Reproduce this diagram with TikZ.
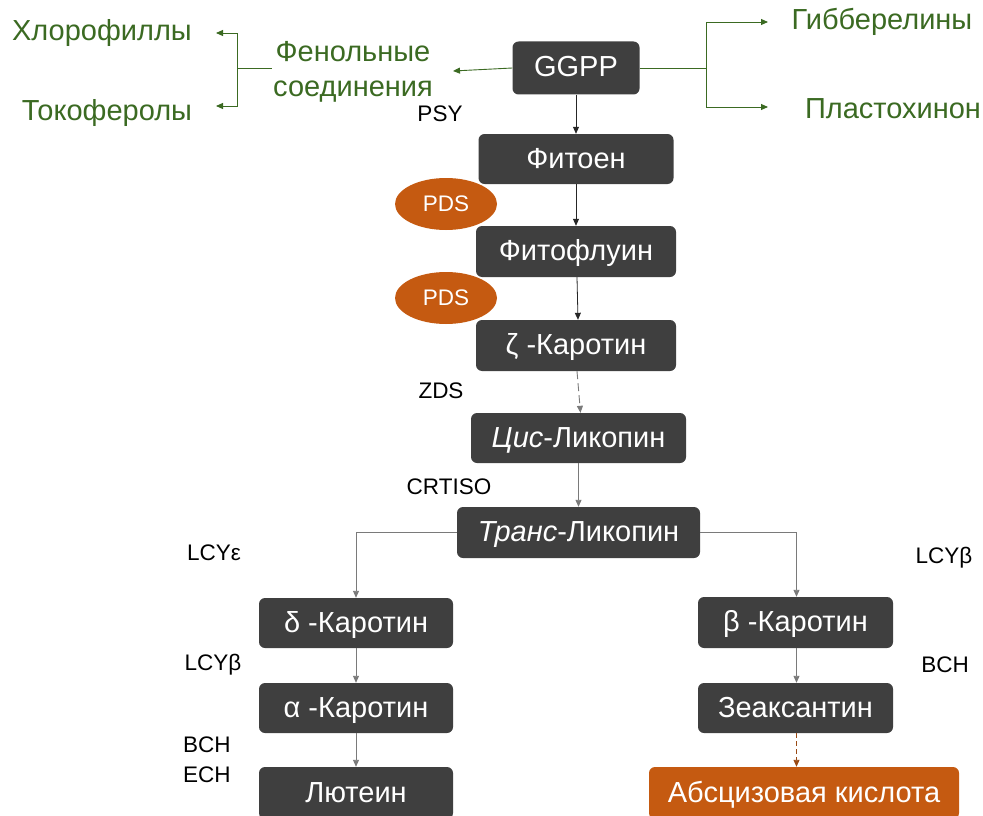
\documentclass[tikz,border=0pt]{standalone}
\usepackage{fontspec}
\setmainfont{Liberation Sans}
\usetikzlibrary{arrows.meta,shapes.geometric}
\definecolor{boxgray}{HTML}{3F3F3F}
\definecolor{orng}{HTML}{C55A11}
\definecolor{grn}{HTML}{3B6A22}
\definecolor{linegray}{HTML}{7A7A7A}
\definecolor{darkline}{HTML}{262626}
\definecolor{brownline}{HTML}{9A4A14}
\begin{document}
\begin{tikzpicture}[x=1pt,y=-1pt,
  box/.style={fill=boxgray, rounded corners=6pt, text=white, font=\fontsize{29}{34}\selectfont, inner sep=0pt, text height=21pt, text depth=3pt},
  obox/.style={box, fill=orng},
  pds/.style={ellipse, fill=orng, text=white, inner sep=0pt, minimum width=102pt, minimum height=52pt, font=\fontsize{22.5}{26}\selectfont},
  gtext/.style={text=grn, font=\fontsize{29}{35}\selectfont, align=center, inner sep=1pt},
  lab/.style={font=\fontsize{22.5}{26}\selectfont, text=black, inner sep=0pt},
  tip/.style={-{Triangle[length=7pt,width=6pt]}},
  blk/.style={tip, draw=darkline, line width=0.8pt},
  gry/.style={tip, draw=linegray, line width=0.9pt},
  grl/.style={tip, draw=grn, line width=0.9pt},
]
\useasboundingbox (0,0) rectangle (983,816);

% boxes
\node[box, minimum width=127pt, minimum height=53pt] (ggpp) at (576,68) {GGPP};
\node[box, minimum width=195pt, minimum height=50pt] (fit) at (576,159) {Фитоен};
\node[box, minimum width=200pt, minimum height=51pt] (fitf) at (576,251.5) {Фитофлуин};
\node[box, minimum width=200pt, minimum height=51pt] (zeta) at (576,345.5) {ζ -Каротин};
\node[box, minimum width=215pt, minimum height=50pt] (cis) at (578.5,438) {\itshape Цис\upshape -Ликопин};
\node[box, minimum width=243pt, minimum height=51pt] (trans) at (578.5,532.5) {\itshape Транс\upshape -Ликопин};
\node[box, minimum width=194pt, minimum height=50pt] (delta) at (356,623) {δ -Каротин};
\node[box, minimum width=195pt, minimum height=51pt] (beta) at (795.5,622.5) {β -Каротин};
\node[box, minimum width=194pt, minimum height=50pt] (alpha) at (356,708) {α -Каротин};
\node[box, minimum width=195pt, minimum height=50pt] (zeax) at (795.5,708) {Зеаксантин};
\node[box, minimum width=194pt, minimum height=52pt] (lut) at (356,793) {Лютеин};
\node[obox, minimum width=310pt, minimum height=52pt] (aba) at (804,793) {Абсцизовая кислота};

% enzymes
\node[pds] (pds1) at (446,204) {PDS};
\node[pds] (pds2) at (446,298) {PDS};
\node[lab] (psy) at (440,114) {PSY};
\node[lab] (zds) at (441,391) {ZDS};
\node[lab] (crtiso) at (449,487) {CRTISO};
\node[lab] (lcye) at (214,553) {LCYε};
\node[lab] (lcybl) at (213,665) {LCYβ};
\node[lab, anchor=west] (bchl) at (183,745) {BCH};
\node[lab, anchor=west] (echl) at (183,775) {ECH};
\node[lab] (lcybr) at (944,558) {LCYβ};
\node[lab] (bchr) at (945,665) {BCH};

% green products
\node[gtext] (phen) at (353,72) {Фенольные\\соединения};
\node[gtext] (chl) at (102,33) {Хлорофиллы};
\node[gtext] (toc) at (107,113) {Токоферолы};
\node[gtext] (gib) at (882,22) {Гибберелины};
\node[gtext] (plast) at (893,109) {Пластохинон};

\coordinate (phenA) at (453,71);
\coordinate (bk) at (237,68);
\coordinate (chlA) at (216,33);
\coordinate (tocA) at (216,106);
\coordinate (rk) at (706,68);
\coordinate (gibA) at (768,22);
\coordinate (plA) at (768,107);

\draw[grl] (ggpp.west) -- (phenA);
\draw[grn, line width=0.9pt] (phen.west |- bk) -- (bk);
\draw[grl] (bk) |- (chlA);
\draw[grl] (bk) |- (tocA);
\draw[grn, line width=0.9pt] (ggpp.east) -- (rk);
\draw[grl] (rk) |- (gibA);
\draw[grl] (rk) |- (plA);

% main chain
\draw[blk] (ggpp.south) -- (fit.north);
\draw[blk] (fit.south) -- (fitf.north);
\draw[blk] ([xshift=1pt]fitf.south) -- ([xshift=2pt]zeta.north);
\draw[gry, dashed, dash pattern=on 8pt off 4pt] ([xshift=1pt]zeta.south) -- ([xshift=2pt]cis.north);
\draw[gry] (cis.south) -- (trans.north);
\draw[gry] (trans.west) -| (delta.north);
\draw[gry] (trans.east) -| ([xshift=1pt]beta.north);
\draw[gry] (delta.south) -- (alpha.north);
\draw[gry] (alpha.south) -- (lut.north);
\draw[gry] ([xshift=1pt]beta.south) -- ([xshift=1pt]zeax.north);
\draw[tip, draw=brownline, line width=0.9pt, dashed, dash pattern=on 5pt off 3pt] ([xshift=1pt]zeax.south) -- ([xshift=-7.5pt]aba.north);
\end{tikzpicture}
\end{document}
